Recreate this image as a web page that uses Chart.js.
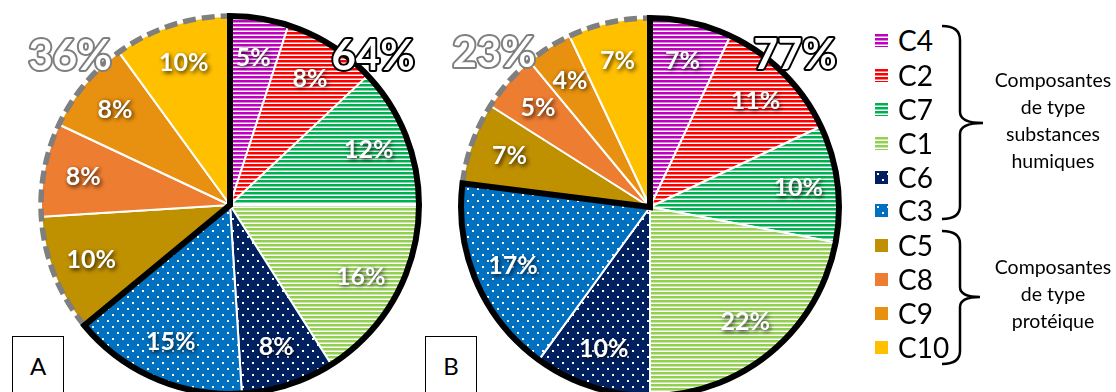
<!DOCTYPE html>
<html lang="fr">
<head>
<meta charset="UTF-8">
<script src="https://cdn.jsdelivr.net/npm/chart.js@4.4.1/dist/chart.umd.min.js"></script>
<style>
  html, body { margin: 0; padding: 0; width: 1116px; height: 392px; overflow: hidden; background: #fff; font-family: Lato, sans-serif; }
  .wrap { position: absolute; top: 0; }
  .box { position: absolute; width: 50px; height: 60px; border: 1px solid #000; background: #fff; font-size: 24px; text-align: center; line-height: 58px; }
  .legend { position: absolute; left: 875px; top: 0; }
  .item { position: absolute; left: 0; height: 34px; display: flex; align-items: center; font-size: 28px; }
  .item canvas { width: 13px; height: 13px; margin-right: 10px; }
  .grp { position: absolute; width: 140px; text-align: center; font-size: 19.5px; line-height: 27px; }
</style>
</head>
<body>
<div class="wrap" style="left:0"><canvas id="pieA"></canvas></div>
<div class="wrap" style="left:440px"><canvas id="pieB"></canvas></div>
<div class="box" style="left:12px; top:336px">A</div>
<div class="box" style="left:425px; top:336px">B</div>
<div class="legend" id="legend"></div>
<svg width="1116" height="392" style="position:absolute;left:0;top:0;pointer-events:none">
  <path d="M942,26 Q960,26 960,40 L960,112 Q960,123 983,123 Q960,123 960,134 L960,206 Q960,219 942,219" fill="none" stroke="#000" stroke-width="2.5"/>
  <path d="M942,231 Q960,231 960,244 L960,287 Q960,297 980,297 Q960,297 960,307 L960,351 Q960,364 942,364" fill="none" stroke="#000" stroke-width="2.5"/>
</svg>
<div class="grp" style="left:983px; top:66px">Composantes<br>de type<br>substances<br>humiques</div>
<div class="grp" style="left:983px; top:253px">Composantes<br>de type<br>protéique</div>
<script>
const categories = ['C4', 'C2', 'C7', 'C1', 'C6', 'C3', 'C5', 'C8', 'C9', 'C10'];
const valuesA = [5, 8, 12, 16, 8, 15, 10, 8, 8, 10];
const valuesB = [7, 11, 10, 22, 10, 17, 7, 5, 4, 7];
const humicCount = 6; // C4..C3 = substances humiques, le reste = protéique
const colors = ['#C000C0', '#FF0000', '#00B050', '#92D050', '#002060', '#0070C0', '#BF9000', '#ED7D31', '#E8900F', '#FFC000'];
const fills = ['stripe', 'stripe', 'stripe', 'stripe', 'dot', 'dot', 'solid', 'solid', 'solid', 'solid'];

function makeTile(color, kind) {
    const t = document.createElement('canvas');
    const c = t.getContext('2d');
    if (kind == 'stripe') {
        t.width = 8; t.height = 4;
        c.fillStyle = '#fff'; c.fillRect(0, 0, 8, 4);
        c.fillStyle = color; c.fillRect(0, 0, 8, 2);
        c.globalAlpha = 0.5; c.fillRect(0, 2, 8, 1);
    } else if (kind == 'dot') {
        t.width = 10; t.height = 12;
        c.fillStyle = color; c.fillRect(0, 0, 10, 12);
        c.fillStyle = '#fff';
        c.fillRect(2, 2, 2, 2);
        c.fillRect(7, 8, 2, 2);
    } else {
        t.width = 4; t.height = 4;
        c.fillStyle = color; c.fillRect(0, 0, 4, 4);
    }
    return t;
}

function patterns(ctx) {
    return colors.map((col, i) => ctx.createPattern(makeTile(col, fills[i]), 'repeat'));
}

// labels + contours des groupes
const groupPlugin = {
    id: 'groups',
    afterDatasetsDraw(chart, args, opts) {
        const ctx = chart.ctx;
        const arcs = chart.getDatasetMeta(0).data;
        const vals = chart.data.datasets[0].data;
        const a0 = arcs[0];
        const cx = a0.x, cy = a0.y, r = a0.outerRadius;
        const lastH = arcs[humicCount - 1], firstP = arcs[humicCount], last = arcs[arcs.length - 1];

        ctx.save();
        ctx.lineWidth = 5.5;
        ctx.strokeStyle = '#7F7F7F';
        ctx.setLineDash([13, 6]);
        ctx.beginPath();
        ctx.arc(cx, cy, r, firstP.startAngle, last.endAngle);
        ctx.stroke();
        ctx.setLineDash([]);
        ctx.lineWidth = 6;
        ctx.strokeStyle = '#000';
        ctx.lineJoin = 'miter';
        ctx.beginPath();
        ctx.moveTo(cx, cy);
        ctx.arc(cx, cy, r, a0.startAngle, lastH.endAngle);
        ctx.closePath();
        ctx.stroke();
        ctx.restore();

        ctx.save();
        ctx.font = 'bold 25px Lato';
        ctx.textAlign = 'center';
        ctx.textBaseline = 'middle';
        ctx.fillStyle = '#fff';
        ctx.shadowColor = 'rgba(0,0,0,0.8)';
        ctx.shadowBlur = 4;
        ctx.shadowOffsetX = 1.5;
        ctx.shadowOffsetY = 1.5;
        arcs.forEach((a, i) => {
            const mid = (a.startAngle + a.endAngle) / 2;
            ctx.fillText(vals[i] + '%', cx + Math.cos(mid) * r * 0.79, cy + Math.sin(mid) * r * 0.79);
        });
        ctx.restore();

        const hum = vals.slice(0, humicCount).reduce((s, v) => s + v, 0);
        const pro = vals.slice(humicCount).reduce((s, v) => s + v, 0);
        ctx.save();
        ctx.font = 'bold 42px Lato';
        ctx.textAlign = 'center';
        ctx.textBaseline = 'middle';
        ctx.lineWidth = 4;
        ctx.lineJoin = 'round';
        ctx.strokeStyle = '#000';
        ctx.strokeText(hum + '%', cx + opts.hum[0], cy + opts.hum[1]);
        ctx.fillStyle = '#fff';
        ctx.fillText(hum + '%', cx + opts.hum[0], cy + opts.hum[1]);
        ctx.strokeStyle = '#7F7F7F';
        ctx.strokeText(pro + '%', cx + opts.pro[0], cy + opts.pro[1]);
        ctx.fillText(pro + '%', cx + opts.pro[0], cy + opts.pro[1]);
        ctx.restore();
    }
};

function makePie(id, w, values, pad, hum, pro) {
    const cv = document.getElementById(id);
    cv.width = w; cv.height = 420;
    cv.style.width = w + 'px'; cv.style.height = '420px';
    const ctx = cv.getContext('2d');
    return new Chart(ctx, {
        type: 'pie',
        data: {
            labels: categories,
            datasets: [{
                data: values,
                backgroundColor: patterns(ctx),
                borderColor: '#fff',
                borderWidth: 2
            }]
        },
        options: {
            responsive: false,
            animation: false,
            layout: { padding: pad },
            plugins: {
                legend: { display: false },
                tooltip: { enabled: false },
                groups: { hum: hum, pro: pro }
            }
        },
        plugins: [groupPlugin]
    });
}

makePie('pieA', 440, valuesA, { left: 40, right: 20, top: 15, bottom: 25 }, [143, -149], [-160, -149]);
makePie('pieB', 420, valuesB, { left: 20, right: 20, top: 17, bottom: 23 }, [145, -152], [-156, -154]);

// légende
const leg = document.getElementById('legend');
const rowY = [40, 75, 109, 143, 177, 210, 245, 279, 313, 347];
categories.forEach((name, i) => {
    const d = document.createElement('div');
    d.className = 'item';
    d.style.top = (rowY[i] - 17) + 'px';
    const m = document.createElement('canvas');
    m.width = 13; m.height = 13;
    const mc = m.getContext('2d');
    mc.fillStyle = mc.createPattern(makeTile(colors[i], fills[i]), 'repeat');
    mc.fillRect(0, 0, 13, 13);
    d.appendChild(m);
    d.appendChild(document.createTextNode(name));
    leg.appendChild(d);
});
</script>
</body>
</html>
